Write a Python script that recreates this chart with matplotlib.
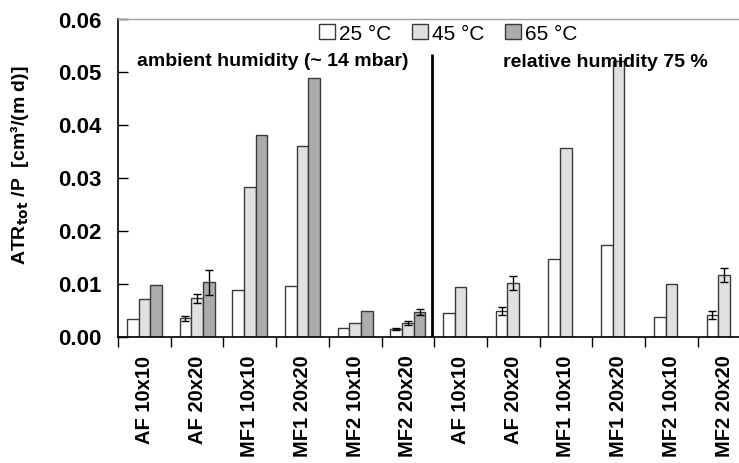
import matplotlib
matplotlib.use('Agg')
import matplotlib.pyplot as plt
import numpy as np

nan = np.nan
categories = ["AF 10x10", "AF 20x20", "MF1 10x10", "MF1 20x20", "MF2 10x10", "MF2 20x20",
              "AF 10x10", "AF 20x20", "MF1 10x10", "MF1 20x20", "MF2 10x10", "MF2 20x20"]
series_labels = ["25 °C", "45 °C", "65 °C"]
t25 = [0.0033, 0.0034, 0.0088, 0.0095, 0.0016, 0.00145,
       0.0044, 0.0048, 0.0147, 0.0173, 0.0036, 0.0041]
t45 = [0.0070, 0.0072, 0.0282, 0.0360, 0.0026, 0.0026,
       0.0093, 0.0101, 0.0356, 0.0520, 0.0099, 0.0116]
t65 = [0.0097, 0.0102, 0.0381, 0.0488, 0.0048, 0.0046,
       nan, nan, nan, nan, nan, nan]
err25 = [nan, 0.0004, nan, nan, nan, 0.0002, nan, 0.0008, nan, nan, nan, 0.0008]
err45 = [nan, 0.0009, nan, nan, nan, 0.0004, nan, 0.0013, nan, nan, nan, 0.0013]
err65 = [nan, 0.0024, nan, nan, nan, 0.0005, nan, nan, nan, nan, nan, nan]
annot_left = "ambient humidity (~ 14 mbar)"
annot_right = "relative humidity 75 %"
ylabel = r"ATR$_{\mathbf{tot}}$ /P  [cm³/(m d)]"

plt.rcParams['font.family'] = ['Liberation Sans', 'DejaVu Sans']

W, H = 739, 464
fig = plt.figure(figsize=(W / 100, H / 100), dpi=100)
ax = fig.add_axes([118 / W, 1 - 337.5 / H, 632.4 / W, 318 / H])

x = np.arange(len(categories))
bw = 0.222
colors = ['#ffffff', '#e0e0e0', '#acacac']
series = [t25, t45, t65]
errs = [err25, err45, err65]
handles = []
for i, (vals, e, c) in enumerate(zip(series, errs, colors)):
    xs = x + (i - 1) * bw
    v = np.array(vals, dtype=float)
    m = ~np.isnan(v)
    h = ax.bar(xs[m], v[m], width=bw, color=c, edgecolor='#3a3a3a', linewidth=1.0,
               label=series_labels[i], zorder=2)
    handles.append(h)
    ea = np.array(e, dtype=float)
    me = ~np.isnan(ea)
    ax.errorbar(xs[me], v[me], yerr=ea[me], fmt='none', ecolor='black',
                elinewidth=1.0, capsize=3, capthick=1.0, zorder=3)

ax.set_xlim(-0.5, len(categories) - 0.5)
ax.set_ylim(0, 0.06)
ax.set_yticks(np.arange(0, 0.061, 0.01))
ax.set_yticklabels([f"{t:.2f}" for t in np.arange(0, 0.061, 0.01)],
                   fontsize=16, fontweight='bold')
ax.tick_params(axis='y', direction='in', length=7, width=1, pad=12)

ax.set_xticks(np.arange(len(categories) + 1) - 0.5, minor=False)
ax.set_xticklabels([])
ax.set_xticks(x, minor=True)
ax.set_xticklabels(categories, minor=True, rotation=90, fontsize=14.5, fontweight='bold')
ax.tick_params(axis='x', which='major', direction='out', length=7, width=1)
ax.tick_params(axis='x', which='minor', length=0, pad=13)

ax.spines['right'].set_visible(False)
ax.spines['top'].set_color('#a0a0a0')
ax.spines['top'].set_linewidth(1)
ax.spines['left'].set_linewidth(1.2)
ax.spines['bottom'].set_linewidth(1.2)

ax.vlines(5.45, 0, 0.0533, colors='black', linewidth=2, zorder=4)

ax.text(-0.13, 0.0521, annot_left, fontsize=14, fontweight='bold', va='center', ha='left', zorder=5)
ax.text(6.81, 0.0518, annot_right, fontsize=14, fontweight='bold', va='center', ha='left', zorder=5)

fig.text(20 / W, 1 - 165 / H, ylabel, rotation=90, fontsize=14, fontweight='bold',
         ha='center', va='center')

fig.legend(handles=handles, labels=series_labels, loc='upper left',
           bbox_to_anchor=(319 / W, 1 - 25 / H), ncol=3, frameon=False,
           fontsize=15, handlelength=0.75, handleheight=0.75, handletextpad=0.2,
           columnspacing=1.0, borderpad=0, borderaxespad=0)

fig.savefig('out.png', dpi=100)
